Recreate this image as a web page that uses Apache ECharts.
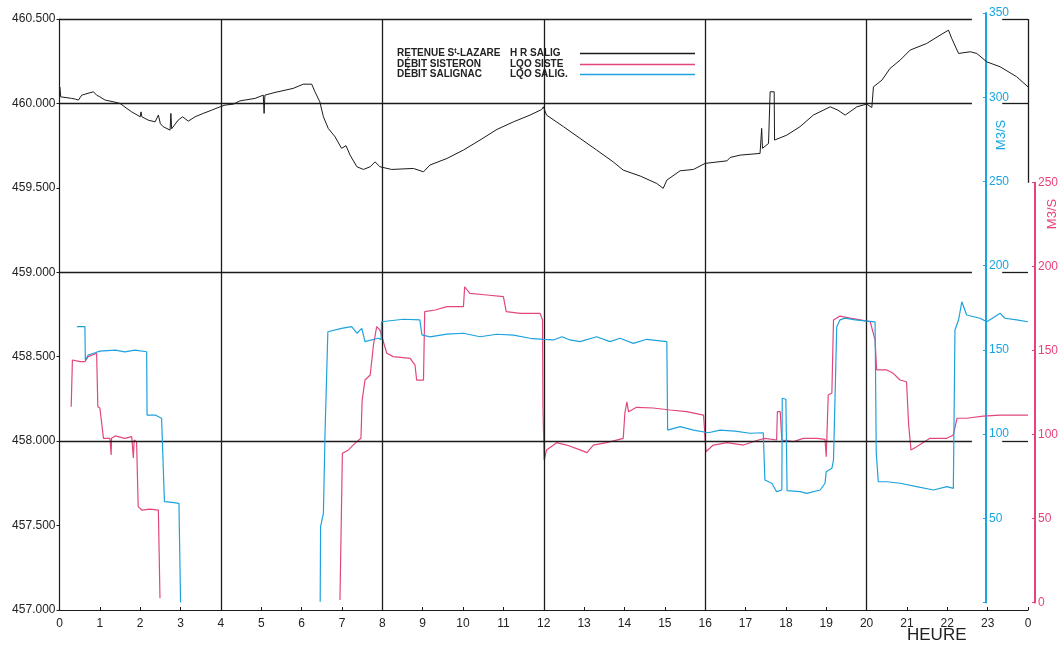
<!DOCTYPE html>
<html><head><meta charset="utf-8">
<script src="https://cdn.jsdelivr.net/npm/echarts@6/dist/echarts.min.js"></script>
<style>html,body{margin:0;padding:0;background:#fff}#c{width:1061px;height:646px}</style>
</head><body><div id="c"></div>
<script>
// ---- data (hour, value) ----
const hourTicks = [0,1,2,3,4,5,6,7,8,9,10,11,12,13,14,15,16,17,18,19,20,21,22,23,24];
const gridHours = [4,8,12,16,20];
const gridLevels = [458,459,460,460.5];
const seriesNames = ['H R SALIG','LQO SISTE','LQO SALIG.'];
const legendLabels = ['RETENUE ST-LAZARE','DÉBIT SISTERON','DÉBIT SALIGNAC'];

// Retenue St-Lazare level (m)
const levelHR = [
[0.01,460.098],[0.03,460.039],[0.30,460.030],[0.40,460.025],[0.47,460.020],[0.55,460.049],[0.84,460.069],[0.92,460.049],
[1.00,460.039],[1.13,460.020],[1.33,460.010],[1.50,460.000],[1.67,459.970],[1.79,459.950],[2.00,459.921],[2.02,459.950],
[2.04,459.921],[2.20,459.901],[2.37,459.891],[2.45,459.931],[2.50,459.880],[2.57,459.862],[2.74,459.842],[2.76,459.941],
[2.78,459.850],[2.94,459.901],[3.05,459.921],[3.19,459.895],[3.36,459.921],[3.56,459.941],[3.77,459.960],[3.98,459.980],
[4.10,459.990],[4.31,459.996],[4.47,460.015],[4.85,460.030],[5.05,460.049],[5.07,459.941],[5.09,460.049],[5.34,460.065],
[5.79,460.089],[6.04,460.114],[6.25,460.114],[6.33,460.069],[6.45,460.010],[6.54,459.921],[6.66,459.852],[6.83,459.802],
[6.99,459.734],[7.10,459.750],[7.20,459.694],[7.37,459.625],[7.53,459.609],[7.70,459.625],[7.82,459.654],[7.94,459.625],
[8.23,459.609],[8.77,459.615],[9.02,459.595],[9.18,459.635],[9.60,459.674],[10.01,459.724],[10.42,459.783],[10.84,459.846],
[11.25,459.891],[11.66,459.931],[11.95,459.964],[11.99,459.980],[12.07,459.931],[12.49,459.862],[12.90,459.793],[13.31,459.724],
[13.72,459.654],[13.97,459.605],[14.39,459.570],[14.80,459.526],[14.96,459.497],[15.05,459.546],[15.38,459.601],[15.71,459.609],
[16.00,459.645],[16.54,459.660],[16.62,459.680],[16.87,459.694],[17.36,459.704],[17.40,459.852],[17.42,459.734],[17.57,459.763],
[17.60,459.763],[17.61,460.069],[17.71,460.069],[17.72,459.783],[18.02,459.812],[18.35,459.862],[18.68,459.931],[19.10,459.980],
[19.29,459.960],[19.47,459.931],[19.76,459.980],[20.00,459.996],[20.13,459.976],[20.17,460.098],[20.38,460.138],[20.58,460.207],
[20.83,460.256],[21.08,460.316],[21.49,460.355],[21.82,460.404],[22.03,460.434],[22.11,460.385],[22.28,460.296],[22.57,460.306],
[22.73,460.296],[22.98,460.246],[23.31,460.217],[23.72,460.158],[24.00,460.098]
];

// Débit Sisteron (m3/s)
const flowSiste = [
[0.29,116.3],[0.32,144.0],[0.51,143.0],[0.63,143.0],[0.71,146.0],[0.92,148.0],[0.95,116.3],[1.00,115.5],[1.09,97.5],
[1.25,97.5],[1.28,87.6],[1.29,97.5],[1.38,98.9],[1.62,97.5],[1.79,98.5],[1.83,85.8],[1.85,96.5],[1.91,95.5],[1.95,56.9],
[2.04,54.9],[2.24,55.5],[2.45,54.9],[2.49,2.5],[2.60,'-'],
[6.95,1.5],[7.01,88.6],[7.16,90.6],[7.32,94.5],[7.47,97.5],[7.50,120.2],[7.57,132.1],[7.70,135.1],[7.78,152.9],[7.86,163.8],
[7.94,161.8],[8.11,148.0],[8.27,146.0],[8.69,145.0],[8.81,141.0],[8.85,132.1],[9.02,132.1],[9.05,172.7],[9.31,173.7],
[9.60,175.7],[10.01,175.7],[10.04,187.5],[10.17,183.6],[10.59,182.6],[11.00,181.6],[11.07,172.7],[11.42,171.7],[11.91,171.7],
[11.97,167.8],[11.98,116.3],[12.01,84.6],[12.07,90.6],[12.32,94.9],[12.57,93.5],[12.90,90.6],[13.07,89.0],[13.23,93.5],
[13.56,94.9],[13.97,97.5],[14.01,112.4],[14.06,119.2],[14.10,113.3],[14.30,115.9],[14.71,115.5],[15.13,114.3],[15.54,113.3],
[15.96,111.3],[16.00,111.3],[16.02,89.5],[16.20,93.5],[16.54,94.9],[16.95,93.5],[17.32,96.5],[17.48,97.5],[17.77,96.5],
[17.79,113.3],[17.86,113.3],[17.90,96.5],[18.19,95.5],[18.43,97.5],[18.77,97.5],[18.97,96.9],[19.00,86.6],[19.05,123.2],
[19.14,124.4],[19.18,167.8],[19.34,170.1],[19.59,168.9],[19.84,167.8],[20.09,166.7],[20.21,155.9],[20.25,138.1],[20.50,138.1],
[20.66,136.1],[20.83,132.1],[20.99,131.1],[21.04,106.4],[21.10,90.6],[21.24,92.5],[21.57,97.5],[21.99,97.5],[22.15,99.5],
[22.24,109.4],[22.48,109.4],[22.89,110.7],[23.31,111.3],[24.00,111.3]
];

// Débit Salignac (m3/s)
const flowSalig = [
[0.43,163.8],[0.63,163.8],[0.64,144.0],[0.71,147.0],[0.88,148.3],[1.00,149.3],[1.38,149.9],[1.62,148.8],[1.87,149.9],
[2.16,148.9],[2.17,111.3],[2.37,111.3],[2.53,109.4],[2.60,59.9],[2.79,59.4],[2.96,58.9],[3.00,0],[3.10,'-'],
[6.46,0.5],[6.47,45.0],[6.54,53.0],[6.58,100.5],[6.65,160.8],[6.99,162.8],[7.24,163.8],[7.37,159.9],[7.49,162.8],
[7.57,154.9],[7.90,156.9],[7.97,156.1],[7.98,166.7],[8.52,168.2],[8.93,167.8],[8.98,158.9],[9.18,157.7],[9.60,159.4],
[10.01,159.9],[10.42,157.8],[10.84,159.3],[11.25,158.8],[11.66,156.9],[11.99,156.3],[12.24,155.9],[12.45,157.8],[12.65,155.9],
[12.90,154.9],[13.31,157.8],[13.64,154.9],[13.89,156.9],[14.22,153.9],[14.55,156.3],[15.05,154.9],[15.07,102.4],[15.38,104.4],
[15.71,102.4],[16.08,100.8],[16.37,102.4],[16.74,101.8],[17.11,100.5],[17.44,100.8],[17.48,72.7],[17.65,70.8],[17.77,65.8],
[17.90,66.8],[17.91,121.3],[18.00,120.7],[18.03,66.4],[18.35,65.8],[18.52,64.8],[18.85,66.8],[18.97,70.8],[19.00,77.7],
[19.14,79.7],[19.18,84.6],[19.22,123.2],[19.26,163.8],[19.34,167.8],[19.47,168.9],[19.72,167.8],[19.96,167.2],[20.21,166.6],
[20.24,88.6],[20.29,71.7],[20.50,71.7],[20.83,70.8],[21.24,68.8],[21.66,66.8],[21.99,68.8],[22.15,67.8],[22.19,161.8],
[22.28,167.8],[22.36,178.6],[22.48,170.7],[22.81,168.8],[22.98,166.7],[23.31,171.7],[23.43,168.8],[23.72,167.8],[24.00,166.7]
];

// ---- chart ----
const BLACK = '#1b1b1b', PINK = '#e2467f', BLUE = '#1ea2dd';
const AX_BLUE = '#18a5e2', AX_PINK = '#e8417c';
const FONT = "'Liberation Sans', Arial, sans-serif";

const lineSegs = [];
gridLevels.forEach(v => {
  lineSegs.push([{coord:[0, v]}, {coord:[22.61, v]}]);
  lineSegs.push([{coord:[23.36, v]}, {coord:[24, v]}]);
});
gridHours.forEach(h => lineSegs.push([{coord:[h, 457]}, {coord:[h, 460.5]}]));
lineSegs.push([{coord:[24, 460.5]}, {coord:[24, 459.53]}]);

const tk = {fontFamily:FONT,fontWeight:'bold',fontSize:10,color:'#222',lineHeight:11,align:'left'};
const legendRich = {
  a0:Object.assign({}, tk),
  s:Object.assign({}, tk, {fontSize:7, verticalAlign:'top'}),
  p:{width:9.5,lineHeight:11,align:'left'},
  a:Object.assign({}, tk, {width:113}),
  b:Object.assign({}, tk, {width:65})
};

const chart = echarts.init(document.getElementById('c'), null, {renderer:'canvas'});
chart.setOption({
  animation:false,
  backgroundColor:'#fff',
  textStyle:{fontFamily:FONT},
  grid:[
    {left:59.5, right:33, top:19, bottom:36},       // level
    {left:59.5, right:33, top:13.1, bottom:43.5},   // flows
    {left:900, right:24.5, top:182.7, bottom:43.5}, // pink axis
    {left:900, right:75, top:13.1, bottom:43.5}     // blue axis
  ],
  legend:{
    show:true, selectedMode:false, orient:'vertical', left:397, top:47.5, itemGap:0, padding:0,
    align:'right', icon:'rect', itemWidth:115, itemHeight:1.5,
    data:seriesNames,
    formatter:function(name){
      const i = seriesNames.indexOf(name);
      if (i === 0) return '{a0|RETENUE S}{s|t}{a0|-LAZARE}{p| }{b|' + name + '}';
      return '{a|' + legendLabels[i] + '}{b|' + name + '}';
    },
    textStyle:{rich:legendRich}
  },
  xAxis:[
    {gridIndex:0, type:'value', min:0, max:24, interval:1,
     axisLine:{lineStyle:{color:BLACK,width:1.2}},
     axisTick:{inside:true,length:3,lineStyle:{color:BLACK}},
     splitLine:{show:false},
     axisLabel:{color:'#222',fontSize:12,margin:8,formatter:v=>String(v%24)}},
    {gridIndex:1, type:'value', min:0, max:24, show:false},
    {gridIndex:2, type:'value', min:0, max:1, show:false},
    {gridIndex:3, type:'value', min:0, max:1, show:false}
  ],
  yAxis:[
    {gridIndex:0, type:'value', min:457, max:460.5, interval:0.5,
     axisLine:{show:true,onZero:false,lineStyle:{color:BLACK,width:1.2}},
     axisTick:{show:true,length:3,lineStyle:{color:BLACK}},
     splitLine:{show:false},
     axisLabel:{color:'#222',fontSize:12,margin:4,formatter:v=>v.toFixed(3)}},
    {gridIndex:1, type:'value', min:0, max:350, show:false},
    {gridIndex:2, type:'value', min:0, max:250, interval:50, position:'right',
     axisLine:{show:true,onZero:false,lineStyle:{color:AX_PINK,width:2}},
     axisTick:{show:true,length:3,inside:true,lineStyle:{color:AX_PINK}},
     splitLine:{show:false},
     axisLabel:{color:AX_PINK,fontSize:12,margin:3}},
    {gridIndex:3, type:'value', min:0, max:350, interval:50, position:'right',
     axisLine:{show:true,onZero:false,lineStyle:{color:AX_BLUE,width:2}},
     axisTick:{show:true,length:3,inside:true,lineStyle:{color:AX_BLUE}},
     splitLine:{show:false},
     axisLabel:{color:AX_BLUE,fontSize:12,margin:3,formatter:v=>v===0?'':String(v)}}
  ],
  graphic:[
    {type:'text', left:907, top:627, style:{text:'HEURE', fill:'#222', font:"17px 'Liberation Sans', Arial, sans-serif"}},
    {type:'text', x:1001, y:135, rotation:Math.PI/2, style:{text:'M3/S', fill:AX_BLUE, align:'center', verticalAlign:'middle', font:"13px 'Liberation Sans', Arial, sans-serif"}},
    {type:'text', x:1052, y:214, rotation:Math.PI/2, style:{text:'M3/S', fill:AX_PINK, align:'center', verticalAlign:'middle', font:"13px 'Liberation Sans', Arial, sans-serif"}}
  ],
  series:[
    {name:seriesNames[0], type:'line', xAxisIndex:0, yAxisIndex:0, data:levelHR, showSymbol:false, symbol:'none',
     color:BLACK, lineStyle:{color:BLACK,width:1}, z:3,
     markLine:{silent:true, symbol:['none','none'], label:{show:false}, emphasis:{disabled:true},
       lineStyle:{color:BLACK,width:1.3,type:'solid'}, data:lineSegs}},
    {name:seriesNames[1], type:'line', xAxisIndex:1, yAxisIndex:1, data:flowSiste, showSymbol:false, symbol:'none',
     color:PINK, lineStyle:{color:PINK,width:1.2}, connectNulls:false, z:4},
    {name:seriesNames[2], type:'line', xAxisIndex:1, yAxisIndex:1, data:flowSalig, showSymbol:false, symbol:'none',
     color:BLUE, lineStyle:{color:BLUE,width:1.2}, connectNulls:false, z:5}
  ]
});
</script>
</body></html>
